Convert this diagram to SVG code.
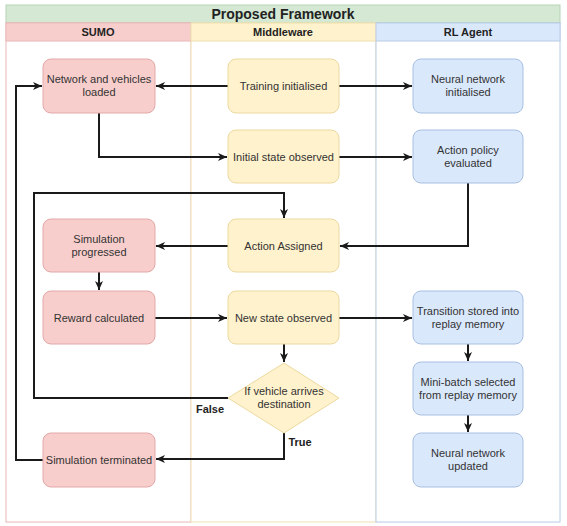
<svg xmlns="http://www.w3.org/2000/svg" width="567" height="526" viewBox="0 0 567 526">
<style>
text{font-family:"Liberation Sans",Arial,sans-serif;font-size:11px;fill:#333;text-anchor:middle}
.t{font-size:14px;font-weight:bold;fill:#222}
.h{font-weight:bold;fill:#222}
.lb{font-weight:bold;fill:#222}
.p{fill:#f8cecc;stroke:#e3a8a8;stroke-width:1}
.y{fill:#fff2cc;stroke:#ecd9a0;stroke-width:1}
.b{fill:#dae8fc;stroke:#a8c0e2;stroke-width:1}
.c{fill:none;stroke:#1a1a1a;stroke-width:2;marker-end:url(#a)}
</style>
<defs>
<marker id="a" markerWidth="10" markerHeight="10" refX="9" refY="5" orient="auto" markerUnits="userSpaceOnUse">
<path d="M0,1 L9,5 L0,9 L2.5,5 Z" fill="#1a1a1a"/>
</marker>
</defs>
<rect width="567" height="526" fill="#fff"/>
<g id="pool">
<rect x="6" y="5" width="554" height="18" fill="#d5e8d4" stroke="#b5d3b3"/>
<text class="t" x="283" y="19">Proposed Framework</text>
<rect x="6" y="23" width="185" height="499" fill="#fff" stroke="#eab8b8"/>
<rect x="191" y="23" width="185" height="499" fill="#fff" stroke="#f0dfb0"/>
<rect x="376" y="23" width="184" height="499" fill="#fff" stroke="#b8cce6"/>
<rect x="6" y="23" width="185" height="18" fill="#f8cecc" stroke="#eab8b8"/>
<rect x="191" y="23" width="185" height="18" fill="#fff2cc" stroke="#f0dfb0"/>
<rect x="376" y="23" width="184" height="18" fill="#dae8fc" stroke="#b8cce6"/>
<text class="h" x="98" y="36">SUMO</text>
<text class="h" x="283" y="36">Middleware</text>
<text class="h" x="468" y="36">RL Agent</text>
</g>
<g id="connectors">
<path class="c" d="M228,86 H156"/>
<path class="c" d="M339,86 H412"/>
<path class="c" d="M99,113 V157 H227"/>
<path class="c" d="M339,157 H412"/>
<path class="c" d="M468,183 V246 H340"/>
<path class="c" d="M228,246 H156"/>
<path class="c" d="M99,272 V290"/>
<path class="c" d="M155,318 H227"/>
<path class="c" d="M339,318 H412"/>
<path class="c" d="M468,344 V361"/>
<path class="c" d="M468,415 V432"/>
<path class="c" d="M284,344 V362"/>
<path class="c" d="M228,398 H34 V193 H284 V218"/>
<path class="c" d="M284,433 V459 H156"/>
<path class="c" d="M43,460 H16 V86 H42"/>
<text class="lb" x="210" y="413">False</text>
<text class="lb" x="300" y="446">True</text>
</g>
<g id="n1"><rect class="p" x="43" y="59" width="112" height="54" rx="8"/><text x="99" y="83">Network and vehicles</text><text x="99" y="96">loaded</text></g>
<g id="n2"><rect class="y" x="228" y="59" width="111" height="54" rx="8"/><text x="283.5" y="90">Training initialised</text></g>
<g id="n3"><rect class="b" x="413" y="59" width="110" height="54" rx="8"/><text x="468" y="83">Neural network</text><text x="468" y="96">initialised</text></g>
<g id="n4"><rect class="y" x="228" y="130" width="111" height="53" rx="8"/><text x="283.5" y="161">Initial state observed</text></g>
<g id="n5"><rect class="b" x="413" y="130" width="110" height="53" rx="8"/><text x="468" y="154">Action policy</text><text x="468" y="167">evaluated</text></g>
<g id="n6"><rect class="p" x="43" y="219" width="112" height="53" rx="8"/><text x="99" y="243">Simulation</text><text x="99" y="256">progressed</text></g>
<g id="n7"><rect class="y" x="228" y="219" width="111" height="53" rx="8"/><text x="283.5" y="250">Action Assigned</text></g>
<g id="n8"><rect class="p" x="43" y="291" width="112" height="53" rx="8"/><text x="99" y="322">Reward calculated</text></g>
<g id="n9"><rect class="y" x="228" y="291" width="111" height="53" rx="8"/><text x="283.5" y="322">New state observed</text></g>
<g id="n10"><rect class="b" x="413" y="291" width="110" height="53" rx="8"/><text x="468" y="315">Transition stored into</text><text x="468" y="328">replay memory</text></g>
<g id="n11"><rect class="b" x="413" y="362" width="110" height="53" rx="8"/><text x="468" y="386">Mini-batch selected</text><text x="468" y="399">from replay memory</text></g>
<g id="n12"><path class="y" d="M284,363 L339,398 L284,433 L228,398 Z"/><text x="284" y="395">If vehicle arrives</text><text x="284" y="408">destination</text></g>
<g id="n13"><rect class="p" x="43" y="433" width="112" height="54" rx="8"/><text x="99" y="464">Simulation terminated</text></g>
<g id="n14"><rect class="b" x="413" y="433" width="110" height="54" rx="8"/><text x="468" y="457">Neural network</text><text x="468" y="470">updated</text></g>
</svg>
